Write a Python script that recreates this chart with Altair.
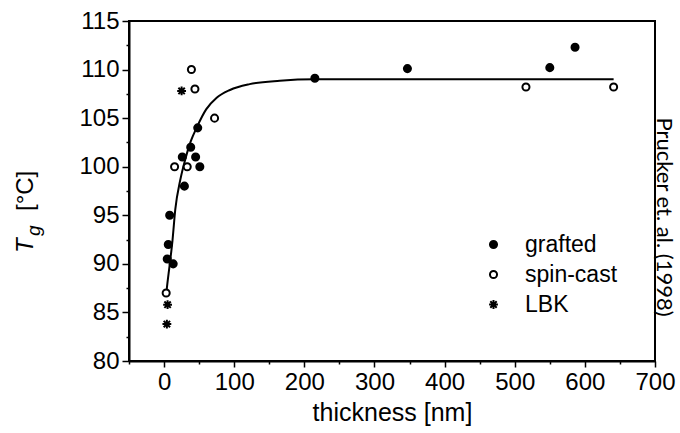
import altair as alt
import pandas as pd

# ---- data ----
grafted_x = [4.5, 6, 8, 13, 26, 29, 38, 45, 48, 51, 215, 347, 550, 586]
grafted_y = [90.5, 92, 95, 90, 101, 98, 102, 101, 104, 100, 109.1, 110.1, 110.2, 112.3]
spin_x = [3, 15, 33, 39, 44, 72, 516, 641]
spin_y = [87, 100, 100, 110, 108, 105, 108.2, 108.2]
lbk_x = [4, 5, 25]
lbk_y = [83.8, 85.8, 107.8]

curve_x = [3, 4, 8, 12, 16, 23, 30, 38, 47, 60, 75, 94, 122, 165, 215, 300, 408, 500, 641]
curve_y = [86.8, 87.5, 89.9, 92.4, 95.6, 98.6, 100.7, 102.6, 104.1, 105.9, 107.1, 107.9,
           108.5, 108.85, 109.0, 109.0, 109.0, 109.0, 109.0]

series_names = ["grafted", "spin-cast", "LBK"]
x_ticks = list(range(-50, 701, 50))
y_ticks = [80 + 2.5 * i for i in range(15)]

rows = []
for name, xs, ys in [("grafted", grafted_x, grafted_y),
                     ("spin-cast", spin_x, spin_y),
                     ("LBK", lbk_x, lbk_y)]:
    for a, b in zip(xs, ys):
        rows.append({"thickness": a, "Tg": b, "series": name})
points_df = pd.DataFrame(rows)
curve_df = pd.DataFrame({"thickness": curve_x, "Tg": curve_y})

FONT = "Liberation Sans"
ASTERISK = "M-1.25,0L1.25,0M0,-1.25L0,1.25M-0.9,-0.9L0.9,0.9M-0.9,0.9L0.9,-0.9"

x_scale = alt.Scale(domain=[-50, 700], nice=False, zero=False)
y_scale = alt.Scale(domain=[80, 115], nice=False, zero=False)

x_axis = alt.Axis(
    values=x_ticks,
    labelExpr="datum.value % 100 === 0 ? datum.label : ''",
    tickSize={"condition": {"test": "datum.value % 100 === 0", "value": 6}, "value": 3},
    title="thickness [nm]",
    titleFontSize=25,
    titleFontWeight="normal",
    titlePadding=6,
    labelFlush=False,
    labelOverlap=False,
    labelPadding=3,
)
y_axis = alt.Axis(
    values=y_ticks,
    labelExpr="datum.value % 5 === 0 ? datum.label : ''",
    tickSize={"condition": {"test": "datum.value % 5 === 0", "value": 7}, "value": 3},
    title=None,
    labelOverlap=False,
    labelPadding=3,
)

legend = alt.Legend(
    title=None,
    orient="none",
    legendX=353,
    legendY=212,
    labelFontSize=23,
    labelOffset=20,
    rowPadding=6,
    symbolSize=50,
    symbolStrokeWidth=2,
    padding=0,
)

curve = alt.Chart(curve_df).mark_line(color="black", strokeWidth=2, interpolate="monotone").encode(
    x=alt.X("thickness:Q", scale=x_scale, axis=x_axis),
    y=alt.Y("Tg:Q", scale=y_scale, axis=y_axis),
)

points = alt.Chart(points_df).mark_point(strokeWidth=2, size=50, opacity=1).encode(
    x=alt.X("thickness:Q", scale=x_scale, axis=x_axis),
    y=alt.Y("Tg:Q", scale=y_scale, axis=y_axis),
    shape=alt.Shape("series:N", scale=alt.Scale(domain=series_names,
                                                range=["circle", "circle", ASTERISK]),
                    legend=legend),
    fill=alt.Fill("series:N", scale=alt.Scale(domain=series_names,
                                              range=["black", "white", "white"]),
                  legend=legend),
    stroke=alt.Stroke("series:N", scale=alt.Scale(domain=series_names,
                                                  range=["black", "black", "black"]),
                      legend=legend),
)

def label(txt, x, y, size, style="normal", angle=270, font=FONT):
    return alt.Chart(pd.DataFrame({"t": [txt]})).mark_text(
        font=font, fontSize=size, fontStyle=style, angle=angle,
        align="left", baseline="alphabetic", color="black",
    ).encode(x=alt.value(x), y=alt.value(y), text="t:N")

t_main = label("T", -96, 232, 24, "italic")
t_sub = label("g", -89, 215, 19, "italic")
t_unit = label("[°C]", -96, 190, 24)
ref_note = alt.Chart(pd.DataFrame({"t": ["Prucker et. al. (1998)"]})).mark_text(
    font="Lato", fontSize=22, angle=90, align="center", baseline="alphabetic", color="black",
).encode(x=alt.value(528), y=alt.value(196), text="t:N")

chart = alt.layer(curve, points, t_main, t_sub, t_unit, ref_note).properties(
    width=526,
    height=340,
    padding={"left": 129, "top": 21, "right": 25, "bottom": 72},
    autosize=alt.AutoSizeParams(type="none"),
    background="white",
).configure_view(
    stroke="black", strokeWidth=2,
).configure_axis(
    domainColor="black", domainWidth=2, tickColor="black", tickWidth=1.5,
    labelColor="black", labelFont=FONT, labelFontSize=24, grid=False,
    titleColor="black", titleFont=FONT,
).configure_legend(
    labelFont=FONT, labelColor="black",
)

chart.save("out.html", embed_options={"renderer": "svg", "actions": False})
